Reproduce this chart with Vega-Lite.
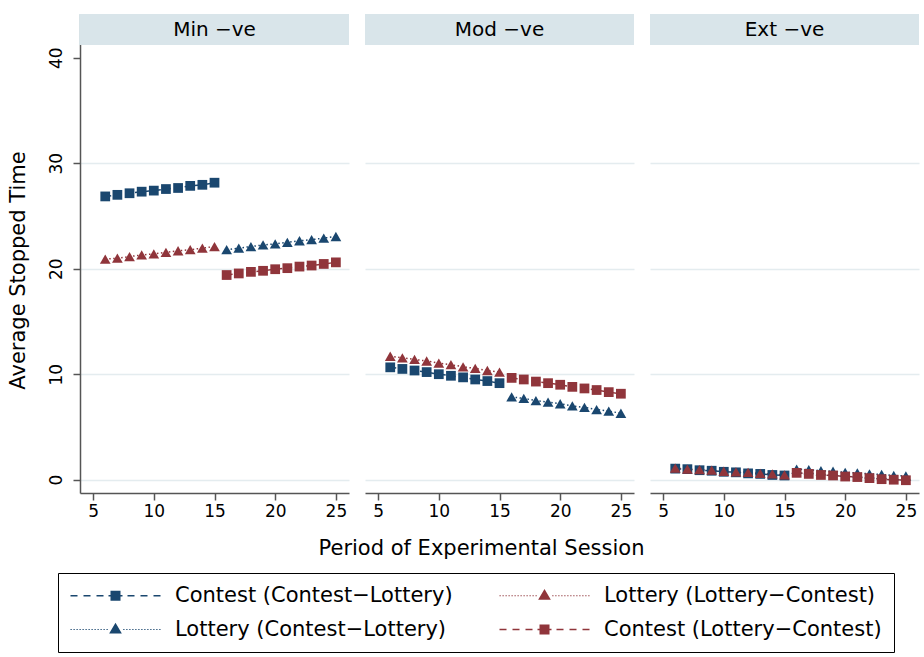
{
  "$schema": "https://vega.github.io/schema/vega-lite/v6.json",
  "padding": {"left": 7, "top": 14, "right": 5, "bottom": 3},
  "background": "white",
  "config": {
    "font": "DejaVu Sans",
    "view": {"stroke": null},
    "axis": {
      "domainColor": "#555555", "domainWidth": 1.5, "tickColor": "#555555", "tickWidth": 1.5, "tickSize": 7,
      "labelFont": "DejaVu Sans", "labelFontSize": 17, "labelColor": "black",
      "titleFont": "DejaVu Sans", "titleFontSize": 21, "titleFontWeight": "normal", "titleColor": "black",
      "gridColor": "#e4ecef", "gridWidth": 1.5
    }
  },
  "datasets": {
    "d": [
      {"panel": "Min −ve", "series": "Contest (Contest−Lottery)", "period": 6, "value": 26.85},
      {"panel": "Min −ve", "series": "Contest (Contest−Lottery)", "period": 7, "value": 27.0},
      {"panel": "Min −ve", "series": "Contest (Contest−Lottery)", "period": 8, "value": 27.15},
      {"panel": "Min −ve", "series": "Contest (Contest−Lottery)", "period": 9, "value": 27.3},
      {"panel": "Min −ve", "series": "Contest (Contest−Lottery)", "period": 10, "value": 27.4},
      {"panel": "Min −ve", "series": "Contest (Contest−Lottery)", "period": 11, "value": 27.55},
      {"panel": "Min −ve", "series": "Contest (Contest−Lottery)", "period": 12, "value": 27.65},
      {"panel": "Min −ve", "series": "Contest (Contest−Lottery)", "period": 13, "value": 27.85},
      {"panel": "Min −ve", "series": "Contest (Contest−Lottery)", "period": 14, "value": 27.95},
      {"panel": "Min −ve", "series": "Contest (Contest−Lottery)", "period": 15, "value": 28.15},
      {"panel": "Min −ve", "series": "Lottery (Contest−Lottery)", "period": 16, "value": 21.8},
      {"panel": "Min −ve", "series": "Lottery (Contest−Lottery)", "period": 17, "value": 21.95},
      {"panel": "Min −ve", "series": "Lottery (Contest−Lottery)", "period": 18, "value": 22.1},
      {"panel": "Min −ve", "series": "Lottery (Contest−Lottery)", "period": 19, "value": 22.25},
      {"panel": "Min −ve", "series": "Lottery (Contest−Lottery)", "period": 20, "value": 22.35},
      {"panel": "Min −ve", "series": "Lottery (Contest−Lottery)", "period": 21, "value": 22.5},
      {"panel": "Min −ve", "series": "Lottery (Contest−Lottery)", "period": 22, "value": 22.65},
      {"panel": "Min −ve", "series": "Lottery (Contest−Lottery)", "period": 23, "value": 22.75},
      {"panel": "Min −ve", "series": "Lottery (Contest−Lottery)", "period": 24, "value": 22.9},
      {"panel": "Min −ve", "series": "Lottery (Contest−Lottery)", "period": 25, "value": 23.05},
      {"panel": "Min −ve", "series": "Lottery (Lottery−Contest)", "period": 6, "value": 20.9},
      {"panel": "Min −ve", "series": "Lottery (Lottery−Contest)", "period": 7, "value": 21.0},
      {"panel": "Min −ve", "series": "Lottery (Lottery−Contest)", "period": 8, "value": 21.15},
      {"panel": "Min −ve", "series": "Lottery (Lottery−Contest)", "period": 9, "value": 21.3},
      {"panel": "Min −ve", "series": "Lottery (Lottery−Contest)", "period": 10, "value": 21.4},
      {"panel": "Min −ve", "series": "Lottery (Lottery−Contest)", "period": 11, "value": 21.55},
      {"panel": "Min −ve", "series": "Lottery (Lottery−Contest)", "period": 12, "value": 21.7},
      {"panel": "Min −ve", "series": "Lottery (Lottery−Contest)", "period": 13, "value": 21.8},
      {"panel": "Min −ve", "series": "Lottery (Lottery−Contest)", "period": 14, "value": 21.95},
      {"panel": "Min −ve", "series": "Lottery (Lottery−Contest)", "period": 15, "value": 22.1},
      {"panel": "Min −ve", "series": "Contest (Lottery−Contest)", "period": 16, "value": 19.4},
      {"panel": "Min −ve", "series": "Contest (Lottery−Contest)", "period": 17, "value": 19.55},
      {"panel": "Min −ve", "series": "Contest (Lottery−Contest)", "period": 18, "value": 19.7},
      {"panel": "Min −ve", "series": "Contest (Lottery−Contest)", "period": 19, "value": 19.8},
      {"panel": "Min −ve", "series": "Contest (Lottery−Contest)", "period": 20, "value": 19.95},
      {"panel": "Min −ve", "series": "Contest (Lottery−Contest)", "period": 21, "value": 20.05},
      {"panel": "Min −ve", "series": "Contest (Lottery−Contest)", "period": 22, "value": 20.2},
      {"panel": "Min −ve", "series": "Contest (Lottery−Contest)", "period": 23, "value": 20.3},
      {"panel": "Min −ve", "series": "Contest (Lottery−Contest)", "period": 24, "value": 20.45},
      {"panel": "Min −ve", "series": "Contest (Lottery−Contest)", "period": 25, "value": 20.6},

      {"panel": "Mod −ve", "series": "Contest (Contest−Lottery)", "period": 6, "value": 10.65},
      {"panel": "Mod −ve", "series": "Contest (Contest−Lottery)", "period": 7, "value": 10.5},
      {"panel": "Mod −ve", "series": "Contest (Contest−Lottery)", "period": 8, "value": 10.35},
      {"panel": "Mod −ve", "series": "Contest (Contest−Lottery)", "period": 9, "value": 10.2},
      {"panel": "Mod −ve", "series": "Contest (Contest−Lottery)", "period": 10, "value": 10.0},
      {"panel": "Mod −ve", "series": "Contest (Contest−Lottery)", "period": 11, "value": 9.85},
      {"panel": "Mod −ve", "series": "Contest (Contest−Lottery)", "period": 12, "value": 9.7},
      {"panel": "Mod −ve", "series": "Contest (Contest−Lottery)", "period": 13, "value": 9.5},
      {"panel": "Mod −ve", "series": "Contest (Contest−Lottery)", "period": 14, "value": 9.35},
      {"panel": "Mod −ve", "series": "Contest (Contest−Lottery)", "period": 15, "value": 9.15},
      {"panel": "Mod −ve", "series": "Lottery (Contest−Lottery)", "period": 16, "value": 7.85},
      {"panel": "Mod −ve", "series": "Lottery (Contest−Lottery)", "period": 17, "value": 7.7},
      {"panel": "Mod −ve", "series": "Lottery (Contest−Lottery)", "period": 18, "value": 7.5},
      {"panel": "Mod −ve", "series": "Lottery (Contest−Lottery)", "period": 19, "value": 7.35},
      {"panel": "Mod −ve", "series": "Lottery (Contest−Lottery)", "period": 20, "value": 7.2},
      {"panel": "Mod −ve", "series": "Lottery (Contest−Lottery)", "period": 21, "value": 7.0},
      {"panel": "Mod −ve", "series": "Lottery (Contest−Lottery)", "period": 22, "value": 6.85},
      {"panel": "Mod −ve", "series": "Lottery (Contest−Lottery)", "period": 23, "value": 6.65},
      {"panel": "Mod −ve", "series": "Lottery (Contest−Lottery)", "period": 24, "value": 6.5},
      {"panel": "Mod −ve", "series": "Lottery (Contest−Lottery)", "period": 25, "value": 6.3},
      {"panel": "Mod −ve", "series": "Lottery (Lottery−Contest)", "period": 6, "value": 11.7},
      {"panel": "Mod −ve", "series": "Lottery (Lottery−Contest)", "period": 7, "value": 11.55},
      {"panel": "Mod −ve", "series": "Lottery (Lottery−Contest)", "period": 8, "value": 11.4},
      {"panel": "Mod −ve", "series": "Lottery (Lottery−Contest)", "period": 9, "value": 11.25},
      {"panel": "Mod −ve", "series": "Lottery (Lottery−Contest)", "period": 10, "value": 11.05},
      {"panel": "Mod −ve", "series": "Lottery (Lottery−Contest)", "period": 11, "value": 10.9},
      {"panel": "Mod −ve", "series": "Lottery (Lottery−Contest)", "period": 12, "value": 10.7},
      {"panel": "Mod −ve", "series": "Lottery (Lottery−Contest)", "period": 13, "value": 10.55},
      {"panel": "Mod −ve", "series": "Lottery (Lottery−Contest)", "period": 14, "value": 10.35},
      {"panel": "Mod −ve", "series": "Lottery (Lottery−Contest)", "period": 15, "value": 10.2},
      {"panel": "Mod −ve", "series": "Contest (Lottery−Contest)", "period": 16, "value": 9.65},
      {"panel": "Mod −ve", "series": "Contest (Lottery−Contest)", "period": 17, "value": 9.5},
      {"panel": "Mod −ve", "series": "Contest (Lottery−Contest)", "period": 18, "value": 9.3},
      {"panel": "Mod −ve", "series": "Contest (Lottery−Contest)", "period": 19, "value": 9.15},
      {"panel": "Mod −ve", "series": "Contest (Lottery−Contest)", "period": 20, "value": 9.0},
      {"panel": "Mod −ve", "series": "Contest (Lottery−Contest)", "period": 21, "value": 8.8},
      {"panel": "Mod −ve", "series": "Contest (Lottery−Contest)", "period": 22, "value": 8.65},
      {"panel": "Mod −ve", "series": "Contest (Lottery−Contest)", "period": 23, "value": 8.5},
      {"panel": "Mod −ve", "series": "Contest (Lottery−Contest)", "period": 24, "value": 8.3},
      {"panel": "Mod −ve", "series": "Contest (Lottery−Contest)", "period": 25, "value": 8.15},

      {"panel": "Ext −ve", "series": "Contest (Contest−Lottery)", "period": 6, "value": 1.05},
      {"panel": "Ext −ve", "series": "Contest (Contest−Lottery)", "period": 7, "value": 1.0},
      {"panel": "Ext −ve", "series": "Contest (Contest−Lottery)", "period": 8, "value": 0.9},
      {"panel": "Ext −ve", "series": "Contest (Contest−Lottery)", "period": 9, "value": 0.85},
      {"panel": "Ext −ve", "series": "Contest (Contest−Lottery)", "period": 10, "value": 0.75},
      {"panel": "Ext −ve", "series": "Contest (Contest−Lottery)", "period": 11, "value": 0.7},
      {"panel": "Ext −ve", "series": "Contest (Contest−Lottery)", "period": 12, "value": 0.6},
      {"panel": "Ext −ve", "series": "Contest (Contest−Lottery)", "period": 13, "value": 0.55},
      {"panel": "Ext −ve", "series": "Contest (Contest−Lottery)", "period": 14, "value": 0.45},
      {"panel": "Ext −ve", "series": "Contest (Contest−Lottery)", "period": 15, "value": 0.4},
      {"panel": "Ext −ve", "series": "Lottery (Contest−Lottery)", "period": 16, "value": 1.0},
      {"panel": "Ext −ve", "series": "Lottery (Contest−Lottery)", "period": 17, "value": 0.95},
      {"panel": "Ext −ve", "series": "Lottery (Contest−Lottery)", "period": 18, "value": 0.85},
      {"panel": "Ext −ve", "series": "Lottery (Contest−Lottery)", "period": 19, "value": 0.8},
      {"panel": "Ext −ve", "series": "Lottery (Contest−Lottery)", "period": 20, "value": 0.7},
      {"panel": "Ext −ve", "series": "Lottery (Contest−Lottery)", "period": 21, "value": 0.65},
      {"panel": "Ext −ve", "series": "Lottery (Contest−Lottery)", "period": 22, "value": 0.55},
      {"panel": "Ext −ve", "series": "Lottery (Contest−Lottery)", "period": 23, "value": 0.5},
      {"panel": "Ext −ve", "series": "Lottery (Contest−Lottery)", "period": 24, "value": 0.4},
      {"panel": "Ext −ve", "series": "Lottery (Contest−Lottery)", "period": 25, "value": 0.35},
      {"panel": "Ext −ve", "series": "Lottery (Lottery−Contest)", "period": 6, "value": 1.1},
      {"panel": "Ext −ve", "series": "Lottery (Lottery−Contest)", "period": 7, "value": 1.0},
      {"panel": "Ext −ve", "series": "Lottery (Lottery−Contest)", "period": 8, "value": 0.95},
      {"panel": "Ext −ve", "series": "Lottery (Lottery−Contest)", "period": 9, "value": 0.9},
      {"panel": "Ext −ve", "series": "Lottery (Lottery−Contest)", "period": 10, "value": 0.8},
      {"panel": "Ext −ve", "series": "Lottery (Lottery−Contest)", "period": 11, "value": 0.75},
      {"panel": "Ext −ve", "series": "Lottery (Lottery−Contest)", "period": 12, "value": 0.7},
      {"panel": "Ext −ve", "series": "Lottery (Lottery−Contest)", "period": 13, "value": 0.6},
      {"panel": "Ext −ve", "series": "Lottery (Lottery−Contest)", "period": 14, "value": 0.55},
      {"panel": "Ext −ve", "series": "Lottery (Lottery−Contest)", "period": 15, "value": 0.45},
      {"panel": "Ext −ve", "series": "Contest (Lottery−Contest)", "period": 16, "value": 0.65},
      {"panel": "Ext −ve", "series": "Contest (Lottery−Contest)", "period": 17, "value": 0.55},
      {"panel": "Ext −ve", "series": "Contest (Lottery−Contest)", "period": 18, "value": 0.45},
      {"panel": "Ext −ve", "series": "Contest (Lottery−Contest)", "period": 19, "value": 0.4},
      {"panel": "Ext −ve", "series": "Contest (Lottery−Contest)", "period": 20, "value": 0.3},
      {"panel": "Ext −ve", "series": "Contest (Lottery−Contest)", "period": 21, "value": 0.25},
      {"panel": "Ext −ve", "series": "Contest (Lottery−Contest)", "period": 22, "value": 0.15},
      {"panel": "Ext −ve", "series": "Contest (Lottery−Contest)", "period": 23, "value": 0.05},
      {"panel": "Ext −ve", "series": "Contest (Lottery−Contest)", "period": 24, "value": 0.0},
      {"panel": "Ext −ve", "series": "Contest (Lottery−Contest)", "period": 25, "value": -0.05}
    ]
  },
  "data": {"name": "d"},
  "spacing": 16,
  "bounds": "flush",
  "hconcat": [
    {
      "width": 269, "height": 479,
      "layer": [
        {
          "data": {"values": [{"label": "Min −ve"}]},
          "mark": {"type": "rect", "color": "#d9e5ea"},
          "encoding": {"x": {"datum": 3.85, "type": "quantitative"}, "x2": {"datum": 26.08}, "y": {"datum": 41.2, "type": "quantitative"}, "y2": {"datum": 44.14}}
        },
        {
          "data": {"values": [{"label": "Min −ve"}]},
          "mark": {"type": "text", "fontSize": 20, "font": "DejaVu Sans", "color": "black", "baseline": "middle"},
          "encoding": {"x": {"datum": 15, "type": "quantitative"}, "y": {"datum": 42.67, "type": "quantitative"}, "text": {"field": "label"}}
        },
        {
          "transform": [{"filter": {"field": "panel", "equal": "Min −ve"}}],
          "encoding": {
            "x": {"field": "period", "type": "quantitative", "scale": {"domain": [3.92, 26.08], "nice": false, "zero": false},
                  "axis": {"values": [5, 10, 15, 20, 25], "title": null, "grid": false, "labelPadding": 3}},
            "y": {"field": "value", "type": "quantitative", "scale": {"domain": [-1.26, 44.14], "nice": false, "zero": false},
                  "axis": {"values": [0, 10, 20, 30, 40], "title": "Average Stopped Time", "titleY": 256, "zindex": 0, "labelAngle": 270, "labelAlign": "center", "labelBaseline": "bottom", "labelPadding": 8, "titlePadding": 19, "grid": true,
                           "gridOpacity": {"condition": {"test": "datum.value === 40", "value": 0}, "value": 1}}},
            "color": {"field": "series", "type": "nominal",
                      "scale": {"domain": ["Contest (Contest−Lottery)", "Lottery (Lottery−Contest)", "Lottery (Contest−Lottery)", "Contest (Lottery−Contest)"], "range": ["#1a476f", "#90353b", "#1a476f", "#90353b"]},
                      "legend": {"title": null, "orient": "none", "direction": "horizontal", "legendX": -22, "legendY": 559, "columns": 2, "symbolSize": 100, "symbolOffset": 35, "labelOffset": 49,
                                 "labelFontSize": 21, "labelFont": "DejaVu Sans", "labelColor": "black", "labelLimit": 400, "strokeColor": "black", "padding": 12, "rowPadding": 12, "columnPadding": 46, "symbolStrokeWidth": 1.5,
                                 "encode": {"symbols": {"update": {
                                   "shape": {"signal": "indexof(datum.value, 'Contest (') === 0 ? 'M-9,-0.15H-7.6V0.15H-9ZM-6.4,-0.15H-5V0.15H-6.4ZM-3.8,-0.15H-2.4V0.15H-3.8ZM-1.4,-0.15H1.4V0.15H-1.4ZM2.4,-0.15H3.8V0.15H2.4ZM5,-0.15H6.4V0.15H5ZM7.6,-0.15H9V0.15H7.6ZM-1,-1H1V1H-1Z' : 'M-9,-0.12h0.25v0.24h-0.25ZM-8.4,-0.12h0.25v0.24h-0.25ZM-7.8,-0.12h0.25v0.24h-0.25ZM-7.2,-0.12h0.25v0.24h-0.25ZM-6.6,-0.12h0.25v0.24h-0.25ZM-6,-0.12h0.25v0.24h-0.25ZM-5.4,-0.12h0.25v0.24h-0.25ZM-4.8,-0.12h0.25v0.24h-0.25ZM-4.2,-0.12h0.25v0.24h-0.25ZM-3.6,-0.12h0.25v0.24h-0.25ZM-3,-0.12h0.25v0.24h-0.25ZM-2.4,-0.12h0.25v0.24h-0.25ZM-1.8,-0.12h0.25v0.24h-0.25ZM1.55,-0.12h0.25v0.24h-0.25ZM2.15,-0.12h0.25v0.24h-0.25ZM2.75,-0.12h0.25v0.24h-0.25ZM3.35,-0.12h0.25v0.24h-0.25ZM3.95,-0.12h0.25v0.24h-0.25ZM4.55,-0.12h0.25v0.24h-0.25ZM5.15,-0.12h0.25v0.24h-0.25ZM5.75,-0.12h0.25v0.24h-0.25ZM6.35,-0.12h0.25v0.24h-0.25ZM6.95,-0.12h0.25v0.24h-0.25ZM7.55,-0.12h0.25v0.24h-0.25ZM8.15,-0.12h0.25v0.24h-0.25ZM8.75,-0.12h0.25v0.24h-0.25ZM0,-1.35L1.27,0.8L-1.27,0.8Z'"},
                                   "size": {"value": 100},
                                   "fill": {"signal": "indexof(datum.value, '(Contest') >= 0 ? '#1a476f' : '#90353b'"},
                                   "stroke": {"signal": "indexof(datum.value, '(Contest') >= 0 ? '#1a476f' : '#90353b'"},
                                   "strokeWidth": {"value": 0},
                                   "opacity": {"value": 1}
                                 }}}}}
          },
          "layer": [
            {"transform": [{"filter": {"field": "series", "oneOf": ["Contest (Contest−Lottery)", "Contest (Lottery−Contest)"]}}],
             "mark": {"type": "line", "strokeWidth": 1.5, "strokeDash": [6, 4]}},
            {"transform": [{"filter": {"field": "series", "oneOf": ["Lottery (Contest−Lottery)", "Lottery (Lottery−Contest)"]}}],
             "mark": {"type": "line", "strokeWidth": 1.5, "strokeDash": [1.5, 2.5]}},
            {"transform": [{"filter": {"field": "series", "equal": "Contest (Contest−Lottery)"}}],
             "mark": {"type": "point", "shape": "square", "filled": true, "size": 95, "opacity": 1}},
            {"transform": [{"filter": {"field": "series", "oneOf": ["Lottery (Contest−Lottery)", "Lottery (Lottery−Contest)"]}}],
             "mark": {"type": "point", "shape": "triangle-up", "filled": true, "size": 115, "opacity": 1}},
            {"transform": [{"filter": {"field": "series", "equal": "Contest (Lottery−Contest)"}}],
             "mark": {"type": "point", "shape": "square", "filled": true, "size": 95, "opacity": 1}}
          ]
        }
      ]
    },
    {
      "width": 269, "height": 479,
      "layer": [
        {
          "data": {"values": [{"label": "Mod −ve"}]},
          "mark": {"type": "rect", "color": "#d9e5ea"},
          "encoding": {"x": {"datum": 3.92, "type": "quantitative"}, "x2": {"datum": 26.08}, "y": {"datum": 41.2, "type": "quantitative"}, "y2": {"datum": 44.14}}
        },
        {
          "data": {"values": [{"label": "Mod −ve"}]},
          "mark": {"type": "text", "fontSize": 20, "font": "DejaVu Sans", "color": "black", "baseline": "middle"},
          "encoding": {"x": {"datum": 15, "type": "quantitative"}, "y": {"datum": 42.67, "type": "quantitative"}, "text": {"field": "label"}}
        },
        {
          "transform": [{"filter": {"field": "panel", "equal": "Mod −ve"}}],
          "encoding": {
            "x": {"field": "period", "type": "quantitative", "scale": {"domain": [3.92, 26.08], "nice": false, "zero": false},
                  "axis": {"values": [5, 10, 15, 20, 25], "title": "Period of Experimental Session", "titleX": 116, "titlePadding": 18, "grid": false, "labelPadding": 3}},
            "y": {"field": "value", "type": "quantitative", "scale": {"domain": [-1.26, 44.14], "nice": false, "zero": false},
                  "axis": {"values": [0, 10, 20, 30, 40], "title": null, "labels": false, "ticks": false, "domain": false, "grid": true,
                           "gridOpacity": {"condition": {"test": "datum.value === 40", "value": 0}, "value": 1}}},
            "color": {"field": "series", "type": "nominal", "legend": null,
                      "scale": {"domain": ["Contest (Contest−Lottery)", "Lottery (Lottery−Contest)", "Lottery (Contest−Lottery)", "Contest (Lottery−Contest)"], "range": ["#1a476f", "#90353b", "#1a476f", "#90353b"]}}
          },
          "layer": [
            {"transform": [{"filter": {"field": "series", "oneOf": ["Contest (Contest−Lottery)", "Contest (Lottery−Contest)"]}}],
             "mark": {"type": "line", "strokeWidth": 1.5, "strokeDash": [6, 4]}},
            {"transform": [{"filter": {"field": "series", "oneOf": ["Lottery (Contest−Lottery)", "Lottery (Lottery−Contest)"]}}],
             "mark": {"type": "line", "strokeWidth": 1.5, "strokeDash": [1.5, 2.5]}},
            {"transform": [{"filter": {"field": "series", "equal": "Contest (Contest−Lottery)"}}],
             "mark": {"type": "point", "shape": "square", "filled": true, "size": 95, "opacity": 1}},
            {"transform": [{"filter": {"field": "series", "oneOf": ["Lottery (Contest−Lottery)", "Lottery (Lottery−Contest)"]}}],
             "mark": {"type": "point", "shape": "triangle-up", "filled": true, "size": 115, "opacity": 1}},
            {"transform": [{"filter": {"field": "series", "equal": "Contest (Lottery−Contest)"}}],
             "mark": {"type": "point", "shape": "square", "filled": true, "size": 95, "opacity": 1}}
          ]
        }
      ]
    },
    {
      "width": 269, "height": 479,
      "layer": [
        {
          "data": {"values": [{"label": "Ext −ve"}]},
          "mark": {"type": "rect", "color": "#d9e5ea"},
          "encoding": {"x": {"datum": 3.92, "type": "quantitative"}, "x2": {"datum": 26.08}, "y": {"datum": 41.2, "type": "quantitative"}, "y2": {"datum": 44.14}}
        },
        {
          "data": {"values": [{"label": "Ext −ve"}]},
          "mark": {"type": "text", "fontSize": 20, "font": "DejaVu Sans", "color": "black", "baseline": "middle"},
          "encoding": {"x": {"datum": 15, "type": "quantitative"}, "y": {"datum": 42.67, "type": "quantitative"}, "text": {"field": "label"}}
        },
        {
          "transform": [{"filter": {"field": "panel", "equal": "Ext −ve"}}],
          "encoding": {
            "x": {"field": "period", "type": "quantitative", "scale": {"domain": [3.92, 26.08], "nice": false, "zero": false},
                  "axis": {"values": [5, 10, 15, 20, 25], "title": null, "grid": false, "labelPadding": 3}},
            "y": {"field": "value", "type": "quantitative", "scale": {"domain": [-1.26, 44.14], "nice": false, "zero": false},
                  "axis": {"values": [0, 10, 20, 30, 40], "title": null, "labels": false, "ticks": false, "domain": false, "grid": true,
                           "gridOpacity": {"condition": {"test": "datum.value === 40", "value": 0}, "value": 1}}},
            "color": {"field": "series", "type": "nominal", "legend": null,
                      "scale": {"domain": ["Contest (Contest−Lottery)", "Lottery (Lottery−Contest)", "Lottery (Contest−Lottery)", "Contest (Lottery−Contest)"], "range": ["#1a476f", "#90353b", "#1a476f", "#90353b"]}}
          },
          "layer": [
            {"transform": [{"filter": {"field": "series", "oneOf": ["Contest (Contest−Lottery)", "Contest (Lottery−Contest)"]}}],
             "mark": {"type": "line", "strokeWidth": 1.5, "strokeDash": [6, 4]}},
            {"transform": [{"filter": {"field": "series", "oneOf": ["Lottery (Contest−Lottery)", "Lottery (Lottery−Contest)"]}}],
             "mark": {"type": "line", "strokeWidth": 1.5, "strokeDash": [1.5, 2.5]}},
            {"transform": [{"filter": {"field": "series", "equal": "Contest (Contest−Lottery)"}}],
             "mark": {"type": "point", "shape": "square", "filled": true, "size": 95, "opacity": 1}},
            {"transform": [{"filter": {"field": "series", "oneOf": ["Lottery (Contest−Lottery)", "Lottery (Lottery−Contest)"]}}],
             "mark": {"type": "point", "shape": "triangle-up", "filled": true, "size": 115, "opacity": 1}},
            {"transform": [{"filter": {"field": "series", "equal": "Contest (Lottery−Contest)"}}],
             "mark": {"type": "point", "shape": "square", "filled": true, "size": 95, "opacity": 1}}
          ]
        }
      ]
    }
  ]
}
